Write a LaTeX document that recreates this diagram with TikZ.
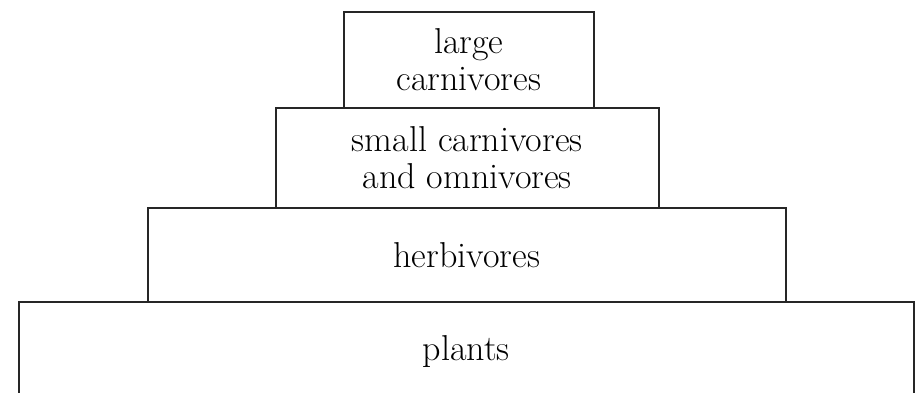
\documentclass[tikz,border=0pt]{standalone}
\begin{document}
\begin{tikzpicture}[x=1pt,y=-1pt,
  box/.style={draw=black!85, line width=1.6pt, inner sep=0pt, align=center,
    font=\fontsize{36}{37}\selectfont, anchor=north west}]
\clip (0,0) rectangle (917,393);
\node[box, minimum width=250pt, minimum height=96pt] (large) at (343,11) {large\\carnivores};
\node[box, minimum width=383pt, minimum height=100pt] (small) at (275,107) {small carnivores\\and omnivores};
\node[box, minimum width=638pt, minimum height=94pt] (herb) at (147,207) {herbivores};
\node[box, minimum width=895pt, minimum height=100pt] (plants) at (18,301) {plants};
\end{tikzpicture}
\end{document}
